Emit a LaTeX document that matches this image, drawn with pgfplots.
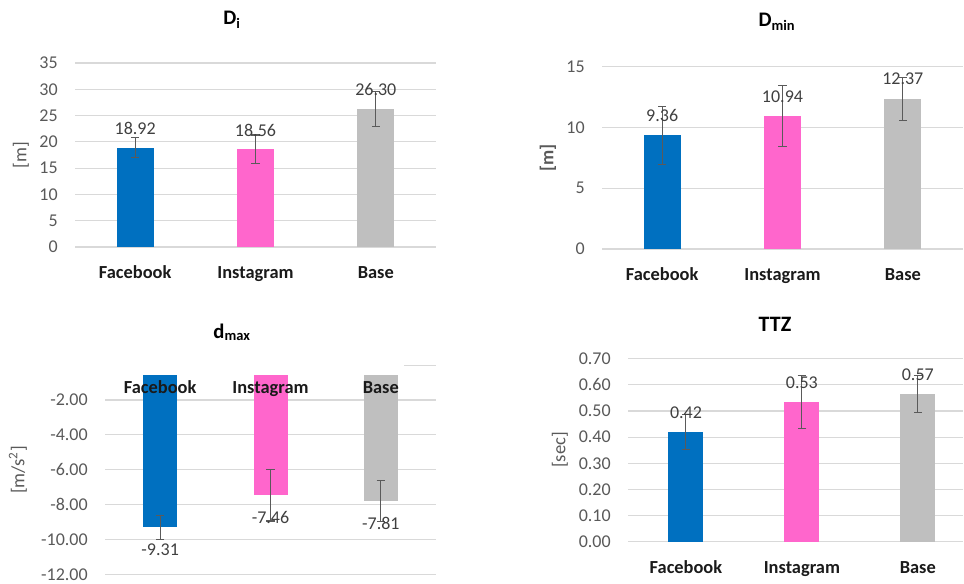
\documentclass[border=0pt]{standalone}
\usepackage{pgfplots}
\pgfplotsset{compat=1.18}
\usepackage{fontspec}
\setmainfont{Carlito}
\definecolor{fb}{HTML}{0070C0}
\definecolor{ig}{HTML}{FF66CC}
\definecolor{bs}{HTML}{BFBFBF}
\definecolor{gridc}{HTML}{D9D9D9}
\definecolor{tickc}{HTML}{595959}
\definecolor{lblc}{HTML}{404040}
\definecolor{errc}{HTML}{5A5A5A}
\definecolor{catc}{HTML}{1A1A1A}
\newcommand{\tfont}{\fontsize{13.5}{16}\selectfont}
\pgfplotsset{
  panel/.style={
    scale only axis,
    axis line style={draw=none},
    tick style={draw=none},
    ymajorgrids, major grid style={draw=gridc, line width=0.9pt},
    xmin=-0.5, xmax=2.5,
    xtick={0,1,2}, xticklabels={Facebook,Instagram,Base},
    xticklabel style={font=\fontsize{13.8}{16}\selectfont\bfseries, color=catc, anchor=base, inner sep=0pt, yshift=-19.3pt},
    yticklabel style={font=\tfont, color=tickc, anchor=east, inner sep=0pt, xshift=-12.75pt},
    /pgf/number format/assume math mode=true,
    ybar, bar shift=0pt,
  },
  lbl/.style={nodes near coords={\pgfmathprintnumber[fixed,zerofill,precision=2]{\pgfplotspointmeta}},
    point meta=y,
    nodes near coords style={font=\tfont, color=lblc, anchor=center, yshift=#1}},
  errbar/.style={error bars/.cd, y dir=both, y explicit,
    error bar style={draw=errc, line width=0.8pt},
    error mark options={rotate=90, draw=errc, mark size=3.1pt, line width=0.8pt}},
}
\begin{document}
\begin{tikzpicture}
\path[use as bounding box] (0pt,0pt) rectangle (723pt,437.25pt);

% Panel 1: D_i
\begin{axis}[panel, anchor=south west, at={(56.25pt,252pt)}, width=270.75pt, height=138pt,
  ymin=0, ymax=35, ytick={0,5,...,35}, bar width=27.75pt]
\addplot[fill=fb, draw=none, lbl=14.6pt, errbar] coordinates {(0,18.92) +- (0,1.9)};
\addplot[fill=ig, draw=none, lbl=14.6pt, errbar] coordinates {(1,18.56) +- (0,2.75)};
\addplot[fill=bs, draw=none, lbl=14.6pt, errbar] coordinates {(2,26.30) +- (0,3.3)};
\end{axis}

% Panel 2: D_min
\begin{axis}[panel, anchor=south west, at={(451.5pt,250.5pt)}, width=270.75pt, height=136.7pt,
  ymin=0, ymax=15, ytick={0,5,10,15}, bar width=27.75pt]
\addplot[fill=fb, draw=none, lbl=14.6pt, errbar] coordinates {(0,9.36) +- (0,2.37)};
\addplot[fill=ig, draw=none, lbl=14.6pt, errbar] coordinates {(1,10.94) +- (0,2.53)};
\addplot[fill=bs, draw=none, lbl=14.6pt, errbar] coordinates {(2,12.37) +- (0,1.77)};
\end{axis}

% Panel 3: d_max
\begin{axis}[panel, anchor=south west, at={(78.75pt,6.5pt)}, width=248.25pt, height=149.7pt,
  ymin=-12, ymax=-0.55, ytick={-12,-10,...,-2}, bar width=25.5pt,
  clip mode=individual,
  xticklabels={},
  yticklabel style={/pgf/number format/.cd, fixed, zerofill, precision=2}]
\addplot[fill=fb, draw=none, lbl=-16.5pt, errbar] coordinates {(0,-9.31) +- (0,0.67)};
\addplot[fill=ig, draw=none, lbl=-16.5pt, errbar] coordinates {(1,-7.46) +- (0,1.48)};
\addplot[fill=bs, draw=none, lbl=-16.5pt, errbar] coordinates {(2,-7.81) +- (0,1.18)};
\draw[gridc, line width=0.9pt] (axis cs:2.21,0) -- (axis cs:2.5,0);
\end{axis}
% Panel 3 category labels on top of the bars
\begin{axis}[panel, anchor=south west, at={(78.75pt,6.5pt)}, width=248.25pt, height=149.7pt,
  ymin=-12, ymax=-0.55, ymajorgrids=false, yticklabels={},
  xticklabel pos=upper,
  xticklabel style={anchor=base, yshift=1.3pt}]
\end{axis}

% Panel 4: TTZ
\begin{axis}[panel, anchor=south west, at={(471pt,31pt)}, width=251.25pt, height=137.25pt,
  xmax=2.39,
  ymin=0, ymax=0.7, ytick={0,0.1,...,0.7}, bar width=26.25pt,
  yticklabel style={/pgf/number format/.cd, fixed, zerofill, precision=2}]
\addplot[fill=fb, draw=none, lbl=14.6pt, errbar] coordinates {(0,0.42) +- (0,0.067)};
\addplot[fill=ig, draw=none, lbl=14.6pt, errbar] coordinates {(1,0.534) +- (0,0.10)};
\addplot[fill=bs, draw=none, lbl=14.6pt, errbar] coordinates {(2,0.565) +- (0,0.072)};
\end{axis}

% Titles
\node[anchor=base, font=\fontsize{15.5}{18}\selectfont\bfseries] at (174pt,418.5pt) {D\textsubscript{i}};
\node[anchor=base, font=\fontsize{15.5}{18}\selectfont\bfseries] at (582.75pt,417pt) {D\textsubscript{min}};
\node[anchor=base, font=\fontsize{15.5}{18}\selectfont\bfseries] at (174pt,183.75pt) {d\textsubscript{max}};
\node[anchor=base, font=\fontsize{16.5}{18}\selectfont\bfseries] at (581.25pt,189pt) {TTZ};

% Y labels
\node[rotate=90, font=\fontsize{14}{16}\selectfont, color=tickc] at (15.75pt,321pt) {[m]};
\node[rotate=90, font=\fontsize{14}{16}\selectfont\bfseries, color=tickc] at (411pt,318.75pt) {[m]};
\node[rotate=90, font=\fontsize{14}{16}\selectfont, color=tickc] at (13.5pt,84.75pt) {[m/s\textsuperscript{2}]};
\node[rotate=90, font=\fontsize{14}{16}\selectfont, color=tickc] at (420pt,99.75pt) {[sec]};
\end{tikzpicture}
\end{document}
